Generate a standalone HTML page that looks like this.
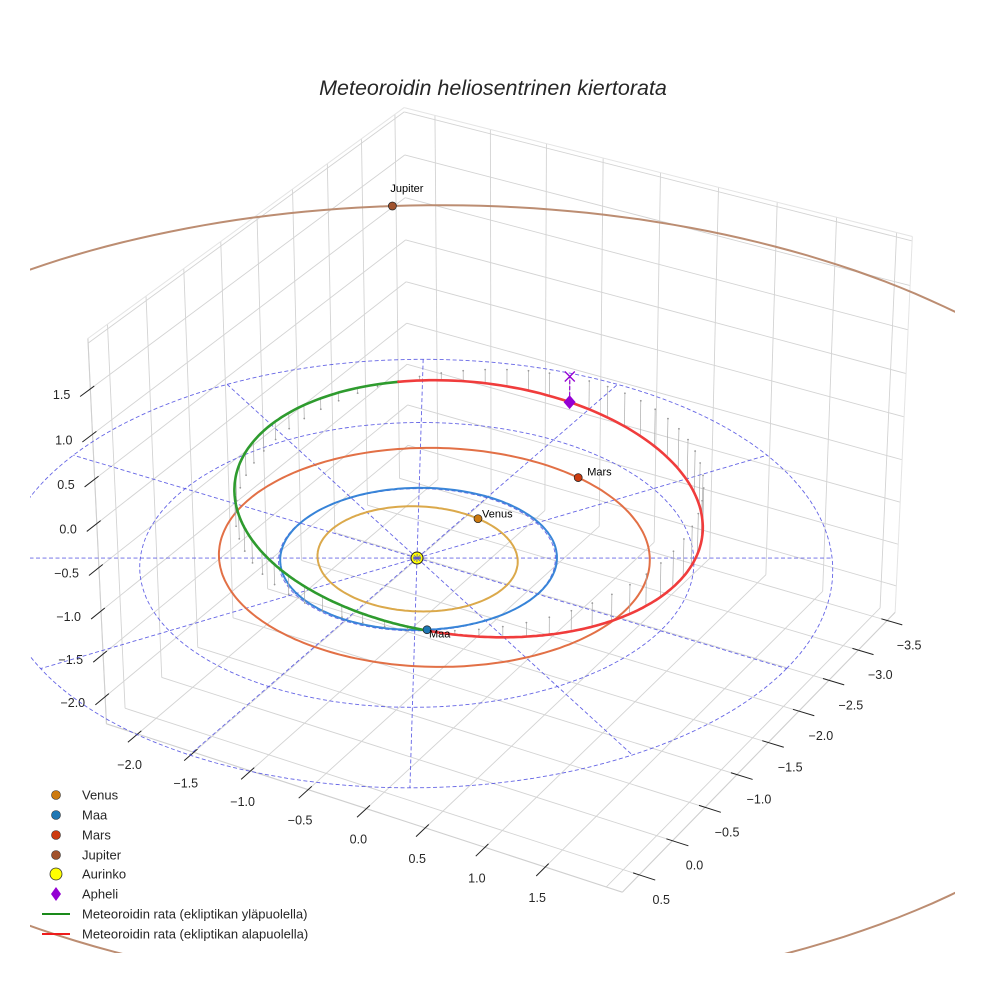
<!DOCTYPE html>
<html><head><meta charset="utf-8">
<style>
body{margin:0;background:#fff}
svg{display:block;font-family:"Liberation Sans",sans-serif}
</style></head>
<body>
<svg id="chart" width="984" height="984" viewBox="0 0 984 984">
<defs><clipPath id="axclip"><rect x="30" y="0" width="925" height="953"/></clipPath></defs>
<rect x="0" y="0" width="984" height="984" fill="#fff"/>
<g id="grid"></g>
<g id="ticks"></g>
<g id="plot" clip-path="url(#axclip)"></g>
<g id="labels"></g>
<text x="493" y="95" text-anchor="middle" font-size="21.5" font-style="italic" fill="#262626">Meteoroidin heliosentrinen kiertorata</text>
<g id="legend" font-size="13" fill="#262626">
  <g><circle cx="56" cy="795" r="4.5" fill="#cc7a10" stroke="#333" stroke-width="0.6"/><text x="82" y="799.5">Venus</text></g>
  <g><circle cx="56" cy="815" r="4.5" fill="#1f77b4" stroke="#333" stroke-width="0.6"/><text x="82" y="819.5">Maa</text></g>
  <g><circle cx="56" cy="835" r="4.5" fill="#cc3b10" stroke="#333" stroke-width="0.6"/><text x="82" y="839.5">Mars</text></g>
  <g><circle cx="56" cy="855" r="4.5" fill="#a0522d" stroke="#333" stroke-width="0.6"/><text x="82" y="859.5">Jupiter</text></g>
  <g><circle cx="56" cy="874" r="6" fill="#ffff00" stroke="#333" stroke-width="0.8"/><text x="82" y="878.5">Aurinko</text></g>
  <g><path d="M56 887 L61 894 L56 901 L51 894 Z" fill="#9400d3"/><text x="82" y="898.5">Apheli</text></g>
  <g><line x1="42" y1="914" x2="70" y2="914" stroke="#1a8a1a" stroke-width="2"/><text x="82" y="918.5">Meteoroidin rata (ekliptikan yläpuolella)</text></g>
  <g><line x1="42" y1="934" x2="70" y2="934" stroke="#ee1c1c" stroke-width="2"/><text x="82" y="938.5">Meteoroidin rata (ekliptikan alapuolella)</text></g>
</g>
</svg>
<script>
// ---- data ----
const planetNames = ["Venus", "Maa", "Mars", "Jupiter"];
const planetA = [0.723, 1.0, 1.56, 5.4];
const planetEcc = [0.0068, 0.0167, 0.0934, 0.0489];
const planetPeri = [131.5, 102.9, 120, 120];
const planetIncl = [3.39, 0, 1.85, 1.30];
const planetNode = [76.7, 0, 49.6, 100.5];
const planetLon = [277, 55, 284, 237];
const refRadii = [1, 2, 3];
const refAngles = [0, 30, 60, 90, 120, 150, 180, 210, 240, 270, 300, 330];
const xTicks = [-2.0, -1.5, -1.0, -0.5, 0.0, 0.5, 1.0, 1.5];
const yTicks = [-3.5, -3.0, -2.5, -2.0, -1.5, -1.0, -0.5, 0.0, 0.5];
const zTicks = [-2.0, -1.5, -1.0, -0.5, 0.0, 0.5, 1.0, 1.5];
const xGrid = [-2.0, -1.5, -1.0, -0.5, 0.0, 0.5, 1.0, 1.5, 2.0];
const zGrid = [-2.0, -1.5, -1.0, -0.5, 0.0, 0.5, 1.0, 1.5, 2.0];
const meteoroidA = 1.956;
const meteoroidE = 0.508;
const meteoroidIncl = 12.7;
const meteoroidNode = 55;
const meteoroidPeri = 82.6;
const xLim = [-2.28, 2.13], yLim = [-3.64, 0.75], zLim = [-2.32, 2.05];

// ---- projection ----
const AZ = 30 * Math.PI / 180, EL = 30 * Math.PI / 180;
const S = 134, DIST = 37, KZ = 0.75, CX = 508, CY = 481;
const bc = [(xLim[0] + xLim[1]) / 2, (yLim[0] + yLim[1]) / 2, (zLim[0] + zLim[1]) / 2];
function proj(x, y, z) {
  const dx = x - bc[0], dy = y - bc[1], dZ = (z - bc[2]) * KZ;
  const p = dx * Math.cos(AZ) - dy * Math.sin(AZ);
  const q = dx * Math.sin(AZ) + dy * Math.cos(AZ);
  const vu = dZ * Math.cos(EL) - q * Math.sin(EL);
  const w = q * Math.cos(EL) + dZ * Math.sin(EL);
  const k = 1 / (1 - w / DIST);
  return [CX + S * p * k, CY - S * vu * k];
}
const NS = "http://www.w3.org/2000/svg";
function mk(tag, attrs, parent) {
  const e = document.createElementNS(NS, tag);
  for (const a in attrs) e.setAttribute(a, attrs[a]);
  parent.appendChild(e);
  return e;
}
function pathOf(pts) {
  return pts.map((p, i) => (i ? "L" : "M") + p[0].toFixed(1) + " " + p[1].toFixed(1)).join("");
}
function seg(a, b, attrs, parent, name) {
  const A = proj(...a), B = proj(...b);
  const l = mk("line", Object.assign({x1: A[0], y1: A[1], x2: B[0], y2: B[1]}, attrs), parent);
  
  
  return l;
}
const grid = document.getElementById("grid");
const ticks = document.getElementById("ticks");
const plot = document.getElementById("plot");
const labels = document.getElementById("labels");
const gStyle = {stroke: "#d3d3d3", "stroke-width": 0.9};

xGrid.forEach(x => {
  seg([x, yLim[0], zLim[0]], [x, yLim[1], zLim[0]], gStyle, grid, 'floor-gridline-x');
  seg([x, yLim[0], zLim[0]], [x, yLim[0], zLim[1]], gStyle, grid, 'wall-gridline-x');
});
yTicks.forEach(y => {
  seg([xLim[0], y, zLim[0]], [xLim[1], y, zLim[0]], gStyle, grid, 'floor-gridline-y');
  seg([xLim[0], y, zLim[0]], [xLim[0], y, zLim[1]], gStyle, grid, 'wall-gridline-y');
});
zGrid.forEach(z => {
  seg([xLim[0], yLim[0], z], [xLim[1], yLim[0], z], gStyle, grid, 'wall-gridline-z');
  seg([xLim[0], yLim[0], z], [xLim[0], yLim[1], z], gStyle, grid, 'wall-gridline-z');
});
const eStyle = {stroke: "#e4e4e4", "stroke-width": 1};
[[[xLim[0], yLim[1], zLim[1]], [xLim[0], yLim[0], zLim[1]]],
 [[xLim[0], yLim[0], zLim[1]], [xLim[1], yLim[0], zLim[1]]],
 [[xLim[1], yLim[0], zLim[1]], [xLim[1], yLim[0], zLim[0]]],
 [[xLim[0], yLim[1], zLim[1]], [xLim[0], yLim[1], zLim[0]]]].forEach(e => seg(e[0], e[1], eStyle, grid, 'pane-edge'));
const aStyle = {stroke: "#cfcfcf", "stroke-width": 1.1};
seg([xLim[0], yLim[1], zLim[0]], [xLim[1], yLim[1], zLim[0]], aStyle, grid, 'x-axis-line');
seg([xLim[1], yLim[0], zLim[0]], [xLim[1], yLim[1], zLim[0]], aStyle, grid, 'y-axis-line');
seg([xLim[0], yLim[1], zLim[0]], [xLim[0], yLim[1], zLim[1]], aStyle, grid, 'z-axis-line');

const tStyle = {stroke: "#222", "stroke-width": 1};
function tlabel(txt, x, y, anchor, name) {
  const t = mk("text", {x: x, y: y, "text-anchor": anchor, "font-size": 12.5, fill: "#262626"}, ticks);
  t.textContent = txt;
  
  
}
function fmt(v) { return (v < 0 ? "\u2212" : "") + Math.abs(v).toFixed(1); }
xTicks.forEach(x => {
  seg([x, yLim[1] - 0.05, zLim[0]], [x, yLim[1] + 0.13, zLim[0]], tStyle, ticks, 'x-tick');
  const P = proj(x, yLim[1], zLim[0]);
  tlabel(fmt(x), P[0] - 8, P[1] + 35, "middle", 'x-tick-label');
});
yTicks.forEach(y => {
  seg([xLim[1] - 0.05, y, zLim[0]], [xLim[1] + 0.13, y, zLim[0]], tStyle, ticks, 'y-tick');
  const P = proj(xLim[1], y, zLim[0]);
  tlabel(fmt(y), P[0] + 22, P[1] + 29, "middle", 'y-tick-label');
});
zTicks.forEach(z => {
  seg([xLim[0], yLim[1] - 0.05, z], [xLim[0], yLim[1] + 0.13, z], tStyle, ticks, 'z-tick');
  const P = proj(xLim[0], yLim[1], z);
  tlabel(fmt(z), P[0] - 20, P[1] + 10, "end", 'z-tick-label');
});

const refStyle = {fill: "none", stroke: "#4a4ae0", "stroke-width": 0.9, "stroke-dasharray": "4 2.5", opacity: 0.85};
const sunP = proj(0, 0, 0);
const sun = mk("circle", {cx: sunP[0], cy: sunP[1], r: 6, fill: "#ffff00", stroke: "#222", "stroke-width": 1}, plot);


refRadii.forEach(r => {
  const pts = [];
  for (let t = 0; t <= 360; t += 2) pts.push(proj(r * Math.cos(t * Math.PI / 180), r * Math.sin(t * Math.PI / 180), 0));
  const c = mk("path", Object.assign({d: pathOf(pts)}, refStyle), plot);
  
  
});
const rMax = refRadii[refRadii.length - 1];
refAngles.forEach(a => {
  const t = a * Math.PI / 180;
  const A = proj(0, 0, 0), B = proj(rMax * Math.cos(t), rMax * Math.sin(t), 0);
  const l = mk("line", Object.assign({x1: A[0], y1: A[1], x2: B[0], y2: B[1]}, refStyle), plot);
  
  
});

const orbitColors = ["#d9a441", "#2f7fd6", "#e0683c", "#b8876a"];
const markerColors = ["#cc7a10", "#1f77b4", "#cc3b10", "#a0522d"];
function planetPos(i, lonDeg) {
  const d2r = Math.PI / 180;
  const a = planetA[i], e = planetEcc[i];
  const r = a * (1 - e * e) / (1 + e * Math.cos((lonDeg - planetPeri[i]) * d2r));
  return [r * Math.cos(lonDeg * d2r), r * Math.sin(lonDeg * d2r), r * Math.sin(planetIncl[i] * d2r) * Math.sin((lonDeg - planetNode[i]) * d2r)];
}
planetNames.forEach((n, i) => {
  const pts = [];
  for (let t = 0; t <= 360; t += 1.5) pts.push(proj(...planetPos(i, t)));
  const o = mk("path", {d: pathOf(pts), fill: "none", stroke: orbitColors[i], "stroke-width": 2, opacity: 0.95}, plot);
  
  
});

const d2r = Math.PI / 180;
function metPos(lonDeg) {
  const a = meteoroidA, e = meteoroidE;
  const r = a * (1 - e * e) / (1 + e * Math.cos((lonDeg - meteoroidPeri) * d2r));
  return [r * Math.cos(lonDeg * d2r), r * Math.sin(lonDeg * d2r), r * Math.sin(meteoroidIncl * d2r) * Math.sin((lonDeg - meteoroidNode) * d2r)];
}
const nDrop = 64;
for (let j = 0; j < nDrop; j++) {
  const E = j / nDrop * 2 * Math.PI;
  const nu = 2 * Math.atan(Math.sqrt((1 + meteoroidE) / (1 - meteoroidE)) * Math.tan(E / 2));
  const P3 = metPos(nu / d2r + meteoroidPeri);
  const A = proj(P3[0], P3[1], P3[2]), B = proj(P3[0], P3[1], 0);
  const l = mk("line", {x1: A[0], y1: A[1], x2: B[0], y2: B[1], stroke: "#aaa", "stroke-width": 0.7}, plot);
  
  
  const d = mk("circle", {cx: B[0], cy: B[1], r: 0.9, fill: "#999"}, plot);
  
  
}
let cur = null, curSign = null;
const segs = [];
for (let t = 0; t <= 360; t += 1) {
  const P3 = metPos(t);
  const s = P3[2] >= 0;
  const pp = proj(...P3);
  if (s !== curSign) { if (cur) cur.pts.push(pp); cur = {s: s, pts: [pp]}; segs.push(cur); curSign = s; }
  else cur.pts.push(pp);
}
segs.forEach(sg => {
  const m = mk("path", {d: pathOf(sg.pts), fill: "none", stroke: sg.s ? "#2e9b2e" : "#f03c3c", "stroke-width": 2.6, "stroke-linecap": "round"}, plot);
  
  
});

const aphLon = meteoroidPeri + 180;
const aph = metPos(aphLon);
const AP = proj(...aph), AX = proj(aph[0], aph[1], 0);
const al = mk("line", {x1: AP[0], y1: AP[1], x2: AX[0], y2: AX[1], stroke: "#9400d3", "stroke-width": 1.2, "stroke-dasharray": "4 2"}, plot);


const ax = mk("path", {d: `M${AX[0]-5} ${AX[1]-5}L${AX[0]+5} ${AX[1]+5}M${AX[0]-5} ${AX[1]+5}L${AX[0]+5} ${AX[1]-5}`, stroke: "#9400d3", "stroke-width": 1.3}, plot);


const ad = mk("path", {d: `M${AP[0]} ${AP[1]-7}L${AP[0]+6} ${AP[1]}L${AP[0]} ${AP[1]+7}L${AP[0]-6} ${AP[1]}Z`, fill: "#9400d3"}, plot);



const labelOff = [[4, -1], [2, 8], [9, -2], [-2, -14]];
planetNames.forEach((n, i) => {
  const P = proj(...planetPos(i, planetLon[i]));
  const c = mk("circle", {cx: P[0], cy: P[1], r: 4, fill: markerColors[i], stroke: "#222", "stroke-width": 0.7}, plot);
  
  
  const t = mk("text", {x: P[0] + labelOff[i][0], y: P[1] + labelOff[i][1], "font-size": 11, fill: "#000"}, labels);
  t.textContent = n;
  
  
});
</script>
</body></html>
